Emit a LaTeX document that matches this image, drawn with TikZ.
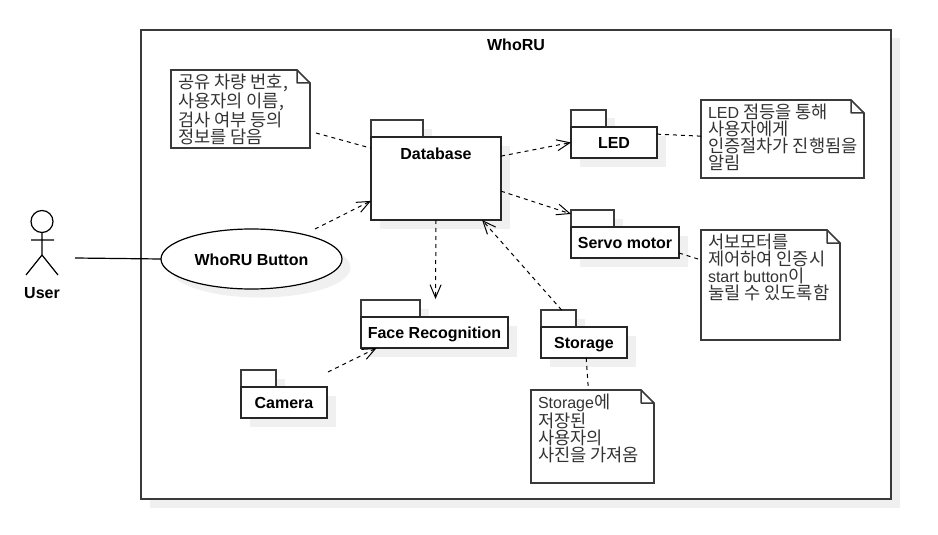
\documentclass[tikz,border=0pt]{standalone}
\usepackage{fontspec}
\setmainfont{Liberation Sans}
\newfontfamily\krfont{Noto Sans CJK KR}
\usetikzlibrary{arrows.meta}
\usetikzlibrary{positioning}
\usetikzlibrary{shapes.geometric}
\usetikzlibrary{shadows}
\usetikzlibrary{calc}
\definecolor{shadowgray}{HTML}{F0F0F0}
\definecolor{edgegray}{HTML}{3A3A3A}
\newcommand{\la}[1]{{\rmfamily\fontsize{16}{15.5}\selectfont #1}}
\newcommand{\notefold}[1]{%
  \fill[white] ($(#1.north east)+(-13,-1)$) -- ($(#1.north east)+(1,13)$) -- ($(#1.north east)+(1,-1)$) -- cycle;
  \draw[line width=1.5pt,edgegray,line join=round] ($(#1.north east)+(-13,0)$) -- ($(#1.north east)+(0,13)$) -- ($(#1.north east)+(-13,13)$) -- cycle;}
\tikzset{
  softshadow/.style={general shadow={shadow xshift=8.5pt,shadow yshift=-8.5pt,fill=shadowgray}},
  framebox/.style={draw=edgegray,line width=2pt,fill=white,softshadow,inner sep=0pt,outer sep=0pt},
  pkgbody/.style={draw=black!85,line width=1.5pt,fill=white,softshadow,inner sep=0pt,outer sep=0pt,text height=12pt,text depth=0pt,font=\bfseries\fontsize{16}{18}\selectfont},
  pkgtab/.style={draw=edgegray,line width=1.5pt,fill=white,softshadow,inner sep=0pt,outer sep=0pt,minimum height=17pt},
  notebox/.style={draw=edgegray,line width=1.5pt,fill=white,inner sep=0pt,outer sep=0pt},
  notetext/.style={inner sep=0pt,outer sep=0pt,align=left,anchor=north west,text=black!80,font=\krfont\fontsize{17.6}{15.5}\selectfont},
  boldtext/.style={inner sep=0pt,text height=12pt,text depth=0pt,font=\bfseries\fontsize{16}{18}\selectfont},
  dep/.style={draw=black,line width=1pt,dash pattern=on 4pt off 4pt,-{Straight Barb[length=13pt,width=11pt,line width=1pt]}},
  noteline/.style={draw=black,line width=1pt,dash pattern=on 4pt off 4pt},
}
\begin{document}
\begin{tikzpicture}[x=1pt,y=-1pt]
  \useasboundingbox (0,0) rectangle (938,535);
  % system frame
  \node[framebox,minimum width=750pt,minimum height=469pt] (whoru) at (516,264.5) {};
  \node[boldtext] (whoruLabel) at (516,45) {WhoRU};

  % actor
  \node[circle,draw,line width=1.2pt,minimum size=22pt,inner sep=0pt,outer sep=0pt] (actorHead) at (42,221.5) {};
  \coordinate (actorHip) at (42,255);
  \coordinate (armL) at (31,240);
  \coordinate (armR) at (54,240);
  \coordinate (legL) at (26,275);
  \coordinate (legR) at (58,275);
  \draw[line width=1.2pt] (actorHead.south) -- (actorHip) (armL) -- (armR) (legL) -- (actorHip) -- (legR);
  \node[boldtext] (user) at (42,292) {User};

  % use case
  \node[ellipse,draw=black,line width=1.2pt,fill=white,softshadow,inner sep=0pt,outer sep=0pt,
      minimum width=181pt,minimum height=60pt,text height=12pt,text depth=0pt,font=\bfseries\fontsize{16}{18}\selectfont] (btn) at (251.5,259) {WhoRU Button};

  % packages
  \node[pkgtab,minimum width=52pt] (dbTab) at (397,128.5) {};
  \node[pkgbody,minimum width=130pt,minimum height=83pt] (db) at (436,178.5) {};
  \node[boldtext] (dbLabel) at (436,153) {Database};

  \node[pkgtab,minimum width=35pt] (ledTab) at (588.5,118.5) {};
  \node[pkgbody,minimum width=86pt,minimum height=31pt] (led) at (614,142.5) {LED};

  \node[pkgtab,minimum width=43pt] (servoTab) at (592.5,218.5) {};
  \node[pkgbody,minimum width=108pt,minimum height=31pt] (servo) at (625,242.5) {Servo motor};

  \node[pkgtab,minimum width=59pt] (faceTab) at (390.5,308.5) {};
  \node[pkgbody,minimum width=147pt,minimum height=31pt] (face) at (434.5,332.5) {Face Recognition};

  \node[pkgtab,minimum width=35pt] (storageTab) at (558.5,318.5) {};
  \node[pkgbody,minimum width=86pt,minimum height=31pt] (storage) at (584,342.5) {Storage};

  \node[pkgtab,minimum width=35pt] (cameraTab) at (258.5,378.5) {};
  \node[pkgbody,minimum width=86pt,minimum height=31pt] (camera) at (284,402.5) {Camera};

  % notes
  \node[notebox,minimum width=139pt,minimum height=78pt] (noteDb) at (240.5,109) {};
  \notefold{noteDb}
  \node[notetext,below right=4pt and 7pt of noteDb.north west] (noteDbText) {공유 차량 번호,\\사용자의 이름,\\검사 여부 등의\\정보를 담음};

  \node[notebox,minimum width=163pt,minimum height=78pt] (noteLed) at (782.5,139) {};
  \notefold{noteLed}
  \node[notetext,below right=4pt and 7pt of noteLed.north west] (noteLedText) {\la{LED} 점등을 통해\\사용자에게\\인증절차가 진행됨을\\알림};

  \node[notebox,minimum width=139pt,minimum height=110pt] (noteServo) at (770.5,285) {};
  \notefold{noteServo}
  \node[notetext,below right=4pt and 7pt of noteServo.north west] (noteServoText) {서보모터를\\제어하여 인증시\\\la{start button}이\\눌릴 수 있도록함};

  \node[notebox,minimum width=123pt,minimum height=93pt] (noteStorage) at (592.5,436.5) {};
  \notefold{noteStorage}
  \node[notetext,below right=4pt and 7pt of noteStorage.north west] (noteStorageText) {\la{Storage}에\\저장된\\사용자의\\사진을 가져옴};

  % free ends
  \coordinate (userEnd) at (75,258);
  \coordinate (noteDbEnd) at (316,133);
  \coordinate (btnEnd) at (315,229);
  \coordinate (faceEnd) at (435.5,299);
  \coordinate (cameraEnd) at (328,372);
  \coordinate (noteServoEnd) at (698,259);

  \draw[line width=1.2pt] (userEnd) -- (btn.west);
  \path[noteline] (noteDbEnd) -- (db.155.6);
  \path[dep] (btnEnd) -- (db.199.9);
  \path[dep] (db.19.1) -- (led.west);
  \path[dep] (db.-11.7) -- (servoTab.168);
  \path[dep] (db.south) -- (faceEnd);
  \path[dep] (storageTab.70.6) -- (db.-42);
  \path[dep] (cameraEnd) -- (face.195.1);
  \path[noteline] (led.11.2) -- (noteLed.178.6);
  \path[noteline] (servo.-11) -- (noteServoEnd);
  \path[noteline] (storage.-82.6) -- (noteStorage.95.5);
\end{tikzpicture}
\end{document}
